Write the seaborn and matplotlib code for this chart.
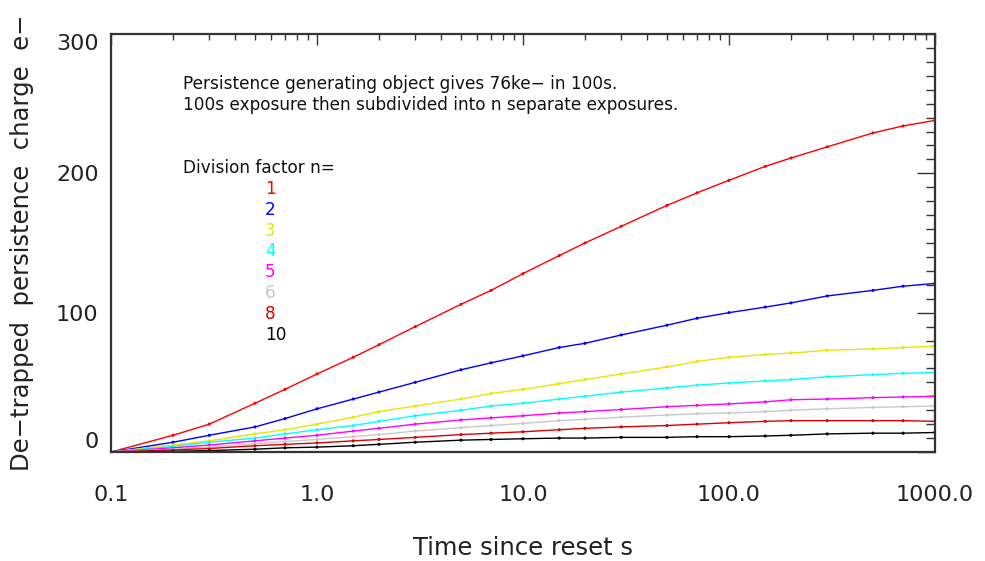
import numpy as np
import pandas as pd
import matplotlib
matplotlib.use("Agg")
import matplotlib.pyplot as plt
import seaborn as sns
from matplotlib.ticker import FixedLocator, NullFormatter, LogLocator

# ---- data ----
times = [0.1, 0.2, 0.3, 0.5, 0.7, 1, 1.5, 2, 3, 5, 7, 10, 15, 20, 30, 50, 70,
         100, 150, 200, 300, 500, 700, 1000]
n_labels = ["1", "2", "3", "4", "5", "6", "8", "10"]
n1 = [0, 12, 20, 35, 45, 56, 68, 77, 90, 106, 116, 128, 141, 150, 162, 177, 186,
      195, 205, 211, 219, 229, 234, 238]
n2 = [0, 7, 12, 18, 24, 31, 38, 43, 50, 59, 64, 69, 75, 78, 84, 91, 96,
      100, 104, 107, 112, 116, 119, 121]
n3 = [0, 5, 8, 13, 16, 20, 25, 29, 33, 38, 42, 45, 49, 52, 56, 61, 65,
      68, 70, 71, 73, 74, 75, 76]
n4 = [0, 4, 7, 10, 13, 16, 19, 22, 26, 30, 33, 35, 38, 40, 43, 46, 48,
      49.5, 51, 52, 54, 55.5, 56.5, 57]
n5 = [0, 3, 5, 8, 10, 12, 15, 17, 20, 23, 24.5, 26, 28, 29, 30.5, 32.5, 33.5,
      34.5, 36, 37.5, 38, 39, 39.5, 40]
n6 = [0, 2, 3.5, 6, 7.5, 9, 11, 12.5, 15, 17.5, 19, 20.5, 22.5, 23.5, 25, 26.5, 27.5,
      28, 29, 30, 31, 32, 32.5, 33]
n8 = [0, 1.5, 2.5, 4.5, 5.5, 6.5, 8, 9, 10.5, 12.5, 13.5, 14.5, 16, 17, 18, 19, 20,
      21, 22, 22.5, 22.5, 22.5, 22.5, 22]
n10 = [0, 0.5, 1, 2, 3, 3.5, 4.5, 5.5, 7, 8.5, 9, 9.5, 10, 10, 10.5, 10.5, 11,
       11, 11.5, 12, 13, 13.5, 13.5, 14]
series = [n1, n2, n3, n4, n5, n6, n8, n10]
colors = ["#ff0000", "#0000ff", "#e6e600", "#00ffff", "#ff00ff", "#c8c8c8",
          "#dc0000", "#000000"]
xtick_vals = [0.1, 1.0, 10.0, 100.0, 1000.0]
xtick_labels = ["0.1", "1.0", "10.0", "100.0", "1000.0"]
ytick_vals = [0, 100, 200, 300]

rows = []
for lab, vals in zip(n_labels, series):
    for t, v in zip(times, vals):
        rows.append({"t": t, "v": v, "n": lab})
df = pd.DataFrame(rows)
palette = dict(zip(n_labels, colors))

sns.set_style("white")
plt.rcParams["font.family"] = ["DejaVu Sans"]

fig = plt.figure(figsize=(9.85, 5.61), dpi=100)
ax = fig.add_axes([0.1127, 0.1943, 0.8365, 0.7451])

sns.lineplot(data=df, x="t", y="v", hue="n", palette=palette, legend=False,
             linewidth=1.0, ax=ax, estimator=None)
sns.scatterplot(data=df, x="t", y="v", hue="n", palette=palette, legend=False,
                s=5, linewidth=0, ax=ax)

ax.set_xscale("log")
ax.set_xlim(0.1, 1000)
ax.set_ylim(0, 300)

ax.xaxis.set_major_locator(FixedLocator(xtick_vals))
ax.set_xticklabels(xtick_labels)
ax.xaxis.set_minor_locator(LogLocator(base=10, subs=np.arange(2, 10)))
ax.xaxis.set_minor_formatter(NullFormatter())
ax.yaxis.set_major_locator(FixedLocator(ytick_vals))
ax.yaxis.set_minor_locator(FixedLocator(np.arange(0, 301, 10)))
ax.set_yticklabels([str(v) for v in ytick_vals])

ax.tick_params(axis="both", which="both", direction="in", top=True, right=True,
               color="#333333", width=1.0, labelcolor="#222222")
ax.tick_params(axis="y", which="major", length=13, labelsize=16, pad=9)
ax.tick_params(axis="y", which="minor", length=6.5)
ax.tick_params(axis="x", which="major", length=8, labelsize=16, pad=24)
ax.tick_params(axis="x", which="minor", length=4)

# IDL-like label placement of the extreme y labels
ylabs = ax.get_yticklabels()
ylabs[0].set_va("bottom")
ylabs[-1].set_va("top")

for sp in ax.spines.values():
    sp.set_linewidth(1.6)
    sp.set_color("#333333")

ax.set_xlabel("Time since reset s", fontsize=17.5, color="#222222", labelpad=22)
ax.set_ylabel("De\u2212trapped  persistence  charge  e\u2212", fontsize=17.5,
              color="#222222", labelpad=16)

txtkw = dict(transform=fig.transFigure, fontsize=12.2, color="#111111",
             ha="left", va="center")
fig.text(183 / 985, 1 - 84 / 561,
         "Persistence generating object gives 76ke\u2212 in 100s.", **txtkw)
fig.text(183 / 985, 1 - 105 / 561,
         "100s exposure then subdivided into n separate exposures.", **txtkw)
fig.text(183 / 985, 1 - 168 / 561, "Division factor n=", **txtkw)
for i, (lab, c) in enumerate(zip(n_labels, colors)):
    kw = dict(txtkw)
    kw["color"] = c
    fig.text(265 / 985, 1 - (189 + 20.8 * i) / 561, lab, **kw)

fig.savefig("out.png", dpi=100)
